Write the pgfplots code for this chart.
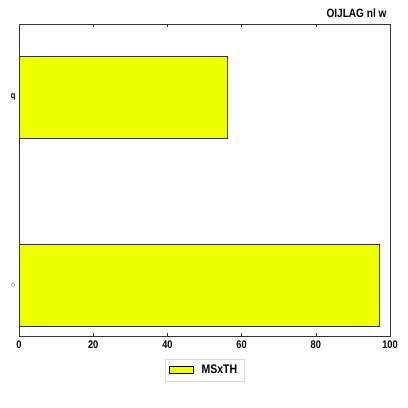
\documentclass[border=0pt]{standalone}
\usepackage{pgfplots}
\pgfplotsset{compat=1.18}
\usepackage{fontspec}
\setmainfont{Liberation Sans}[FakeStretch=0.84]
\definecolor{baryel}{HTML}{EEFF00}
\begin{document}
\begin{tikzpicture}[x=1pt,y=1pt]
\useasboundingbox (-19,-72) rectangle (389,312+24);
\begin{axis}[
  at={(0,0)}, anchor=south west,
  scale only axis, width=371pt, height=312pt,
  xmin=0, xmax=100, ymin=-0.27, ymax=1.39,
  xtick={0,20,40,60,80,100},
  ytick={0,1}, yticklabels={{\color{black!60}$\circ$}, q},
  xbar, bar width=0.44,
  axis line style={black!80, line width=0.6pt},
  tick style={black!80},
  major tick length=3pt,
  tick align=inside,
  ytick pos=left,
  tick label style={font=\fontsize{11}{12}\selectfont\bfseries},
  yticklabel style={font=\fontsize{9}{10}\selectfont\bfseries},
  xticklabel style={yshift=-1pt},
  /pgf/number format/assume math mode=true,
  legend style={at={(0.5,-0.109)}, anchor=center, draw=black!15, font=\fontsize{12.5}{13}\selectfont\bfseries, legend cell align=left, inner xsep=4pt, inner ysep=3pt},
  legend image code/.code={\draw[#1, draw=black] (0cm,-0.13cm) rectangle (0.85cm,0.13cm);},
  legend style={/tikz/every even column/.append style={column sep=0pt}, nodes={inner sep=3pt}},
  clip=false,
]
\addplot[fill=baryel, draw=black!80, line width=0.5pt] coordinates {(97,0) (56,1)};
\addlegendentry{\hspace{5pt}MSxTH}
\node[anchor=base east, font=\fontsize{12}{13}\selectfont\bfseries] at (rel axis cs:1,1) [yshift=7pt] {OIJLAG nl w};
\end{axis}
\end{tikzpicture}
\end{document}
